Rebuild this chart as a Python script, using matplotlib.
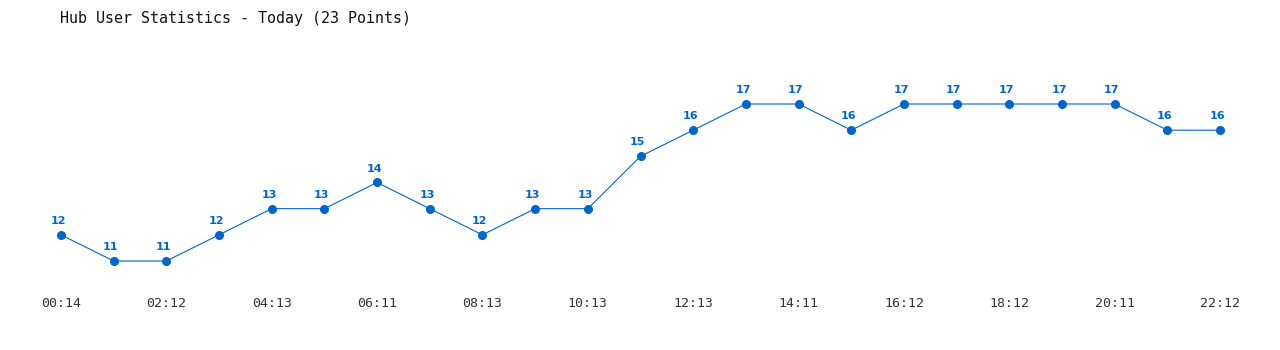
import matplotlib
matplotlib.use("Agg")
import matplotlib.pyplot as plt

# readings, one every ~hour
times = ["00:14", "01:13", "02:12", "03:12", "04:13", "05:12", "06:11", "07:12",
         "08:13", "09:13", "10:13", "11:13", "12:13", "13:12", "14:11", "15:12",
         "16:12", "17:12", "18:12", "19:12", "20:11", "21:12", "22:12"]
users = [12, 11, 11, 12, 13, 13, 14, 13, 12, 13, 13, 15, 16, 17, 17, 16, 17, 17, 17, 17, 17, 16, 16]

blue = "#0066cc"

fig = plt.figure(figsize=(12.8, 3.5), dpi=100)
ax = fig.add_axes([61 / 1280, 89 / 350, 1159 / 1280, 157 / 350])

x = list(range(len(users)))
ax.plot(x, users, color=blue, lw=0.8, marker="o", ms=5.5, clip_on=False)
for xi, v in zip(x, users):
    ax.annotate(str(v), (xi, v), xytext=(-2, 10), textcoords="offset points",
                ha="center", va="center", color=blue, fontsize=8,
                fontweight="bold", family="DejaVu Sans")

ax.set_xlim(0, 22)
ax.set_ylim(min(users), max(users))
ax.set_xticks(x[::2])
ax.set_xticklabels(times[::2], family="DejaVu Sans Mono", fontsize=9.5, color="#333333")
ax.tick_params(axis="x", length=0, pad=26)
for lbl in ax.get_xticklabels():
    lbl.set_x(lbl.get_position()[0])
ax.set_yticks([])
for s in ax.spines.values():
    s.set_visible(False)

fig.text(60 / 1280, 1 - 18 / 350, "Hub User Statistics - Today (23 Points)",
         family="DejaVu Sans Mono", fontsize=10.8, color="#111111", va="center")

fig.savefig("out.png", dpi=100)
